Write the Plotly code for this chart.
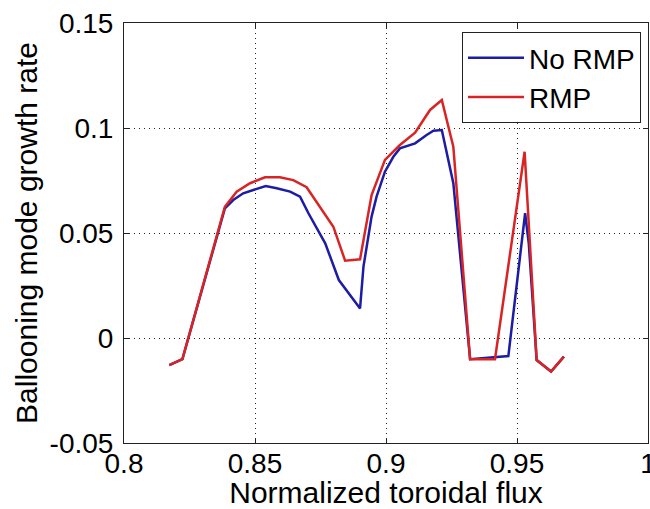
import plotly.graph_objects as go

# Normalized toroidal flux / growth rate
x_norm = [0.8173, 0.8223, 0.8385, 0.8417, 0.8455, 0.8500, 0.8541, 0.8583, 0.8634,
          0.8672, 0.8704, 0.8768, 0.8820, 0.8901, 0.8914, 0.8945, 0.8964, 0.8996,
          0.9028, 0.9053, 0.9111, 0.9155, 0.9181, 0.9213, 0.9257, 0.9321, 0.9467,
          0.9531, 0.9545, 0.9575, 0.9630, 0.9679]
y_norm = [-0.0129, -0.0101, 0.0617, 0.0657, 0.0689, 0.0708, 0.0724, 0.0713, 0.0697,
          0.0673, 0.0594, 0.0451, 0.0276, 0.0141, 0.0340, 0.0578, 0.0673, 0.0792,
          0.0863, 0.0903, 0.0927, 0.0967, 0.0987, 0.0990, 0.0737, -0.0101, -0.0086,
          0.0594, 0.0450, -0.0105, -0.0160, -0.0089]

x_rmp = [0.8173, 0.8223, 0.8385, 0.8430, 0.8481, 0.8538, 0.8595, 0.8646, 0.8697,
         0.8735, 0.8799, 0.8844, 0.8901, 0.8945, 0.8996, 0.9053, 0.9111, 0.9168,
         0.9213, 0.9257, 0.9321, 0.9416, 0.9529, 0.9575, 0.9630, 0.9679]
y_rmp = [-0.0129, -0.0101, 0.0625, 0.0697, 0.0737, 0.0765, 0.0765, 0.0752, 0.0718,
         0.0650, 0.0530, 0.0368, 0.0375, 0.0681, 0.0848, 0.0919, 0.0978, 0.1086,
         0.1133, 0.0911, -0.0101, -0.0101, 0.0887, -0.0105, -0.0160, -0.0089]

series_names = ["No RMP", "RMP"]
series_colors = ["#1c1ca4", "#d82424"]

x_ticks = [0.8, 0.85, 0.9, 0.95, 1.0]
x_ticktext = ["0.8", "0.85", "0.9", "0.95", "1"]
y_ticks = [-0.05, 0.0, 0.05, 0.1, 0.15]
y_ticktext = ["-0.05", "0", "0.05", "0.1", "0.15"]

FONT = "Liberation Sans, Arial, Helvetica, sans-serif"

fig = go.Figure()
for xs, ys, name, col in zip([x_norm, x_rmp], [y_norm, y_rmp], series_names, series_colors):
    fig.add_trace(go.Scatter(x=xs, y=ys, mode="lines", name=name,
                             line=dict(color=col, width=2.5)))

axis_common = dict(
    showline=True, linecolor="#222222", linewidth=1, mirror="ticks",
    ticks="inside", ticklen=5, tickcolor="#222222",
    showgrid=True, gridcolor="#222222", gridwidth=1, griddash="1px,4px",
    zeroline=False, tickfont=dict(family=FONT, size=28, color="black"),
    ticklabeloverflow="allow",
)

fig.update_layout(
    width=650, height=509,
    margin=dict(l=124, r=2, t=23, b=66),
    paper_bgcolor="white", plot_bgcolor="white",
    font=dict(family=FONT, size=29, color="black"),
    xaxis=dict(range=[0.8, 1.0], tickvals=x_ticks, ticktext=x_ticktext,
               title=dict(text="Normalized toroidal flux", font=dict(size=30), standoff=9),
               automargin=False, ticklabelstandoff=-5, **axis_common),
    yaxis=dict(range=[-0.05, 0.15], tickvals=y_ticks, ticktext=y_ticktext,
               title=dict(text="Ballooning mode growth rate", font=dict(size=30), standoff=3),
               automargin=False, ticklabelstandoff=4, **axis_common),
    legend=dict(x=0.9866, y=0.9786, xanchor="right", yanchor="top",
                bgcolor="white", bordercolor="#222222", borderwidth=1,
                font=dict(size=28), tracegroupgap=0, itemwidth=56),
    showlegend=True,
)

fig.write_html("out.html")
